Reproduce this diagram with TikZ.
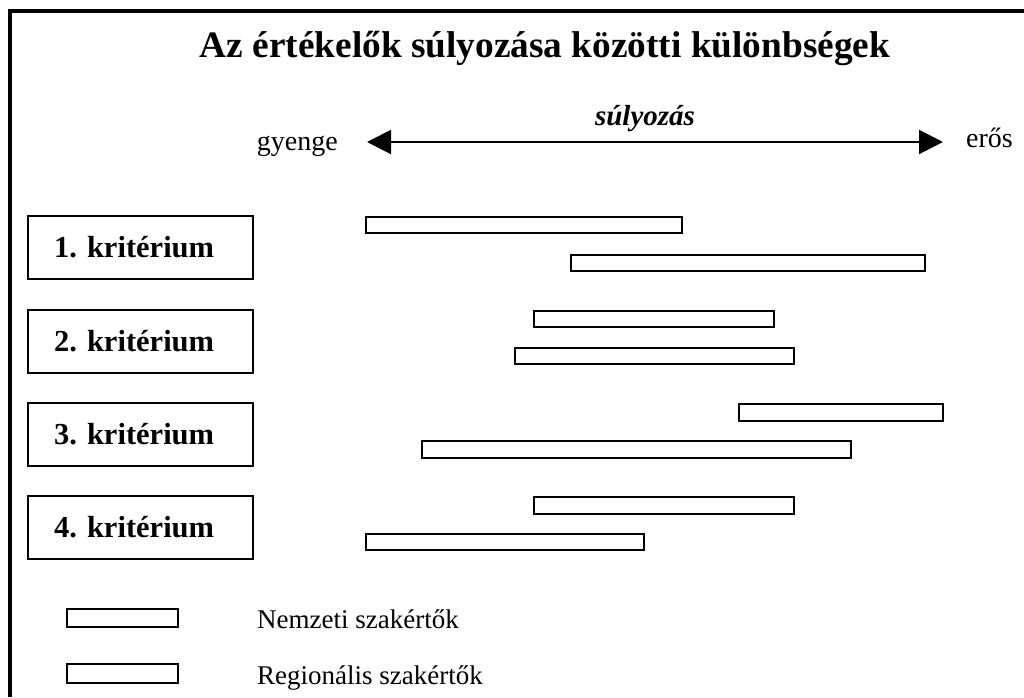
\documentclass[tikz,border=0pt]{standalone}
\usepackage{fontspec}
\setmainfont{Liberation Serif}
\usetikzlibrary{arrows.meta}
\frenchspacing
\begin{document}
\begin{tikzpicture}[x=1pt,y=-1pt,
  crit/.style={draw,line width=2pt,text width=173pt,align=left,inner xsep=26pt,inner ysep=0pt,
    minimum height=63pt,font=\fontsize{30.5}{36}\selectfont\bfseries},
  bar/.style={draw,line width=2pt},
  lbl/.style={inner sep=0pt,font=\fontsize{28}{32}\selectfont},
  legtext/.style={inner sep=0pt,font=\fontsize{27}{32}\selectfont}]
\useasboundingbox (0,0) rectangle (1024,697);
% open frame: left and top edges
\draw[line width=4.5pt] (10,697) -- (10,11) -- (1024,11);
% heading
\node[inner sep=0pt,anchor=base,font=\fontsize{37.3}{42}\selectfont\bfseries] (title) at (545,57)
  {Az értékelők súlyozása közötti különbségek};
% weighting scale
\node[lbl,anchor=base east] (weak) at (338,150) {gyenge};
\node[lbl,anchor=base west] (strong) at (966,147) {erős};
\node[inner sep=0pt,anchor=base,font=\fontsize{29}{33}\selectfont\bfseries\itshape] (scale) at (645,125) {súlyozás};
\coordinate (sl) at (367,142);
\coordinate (sr) at (943,142);
\draw[line width=2pt,{Triangle[length=24pt,width=24pt]}-{Triangle[length=24pt,width=24pt]}] (sl) -- (sr);
% criteria
\node[crit] (k1) at (140.5,247.5) {1. kritérium};
\node[crit] (k2) at (140.5,341) {2. kritérium};
\node[crit] (k3) at (140.5,434) {3. kritérium};
\node[crit] (k4) at (140.5,527.5) {4. kritérium};
% weighting ranges, national (upper) and regional (lower)
\draw[bar] (366,217) rectangle (682,233);
\draw[bar] (571,255) rectangle (925,271);
\draw[bar] (534,311) rectangle (774,327);
\draw[bar] (515,348) rectangle (794,364);
\draw[bar] (739,404) rectangle (943,421);
\draw[bar] (422,441) rectangle (851,458);
\draw[bar] (534,497) rectangle (794,514);
\draw[bar] (366,534) rectangle (644,550);
% legend
\draw[bar] (67,609) rectangle (178,627);
\draw[bar] (67,664) rectangle (178,683);
\node[legtext,anchor=base west] (nat) at (257,628) {Nemzeti szakértők};
\node[legtext,anchor=base west] (reg) at (257,684) {Regionális szakértők};
\end{tikzpicture}
\end{document}
